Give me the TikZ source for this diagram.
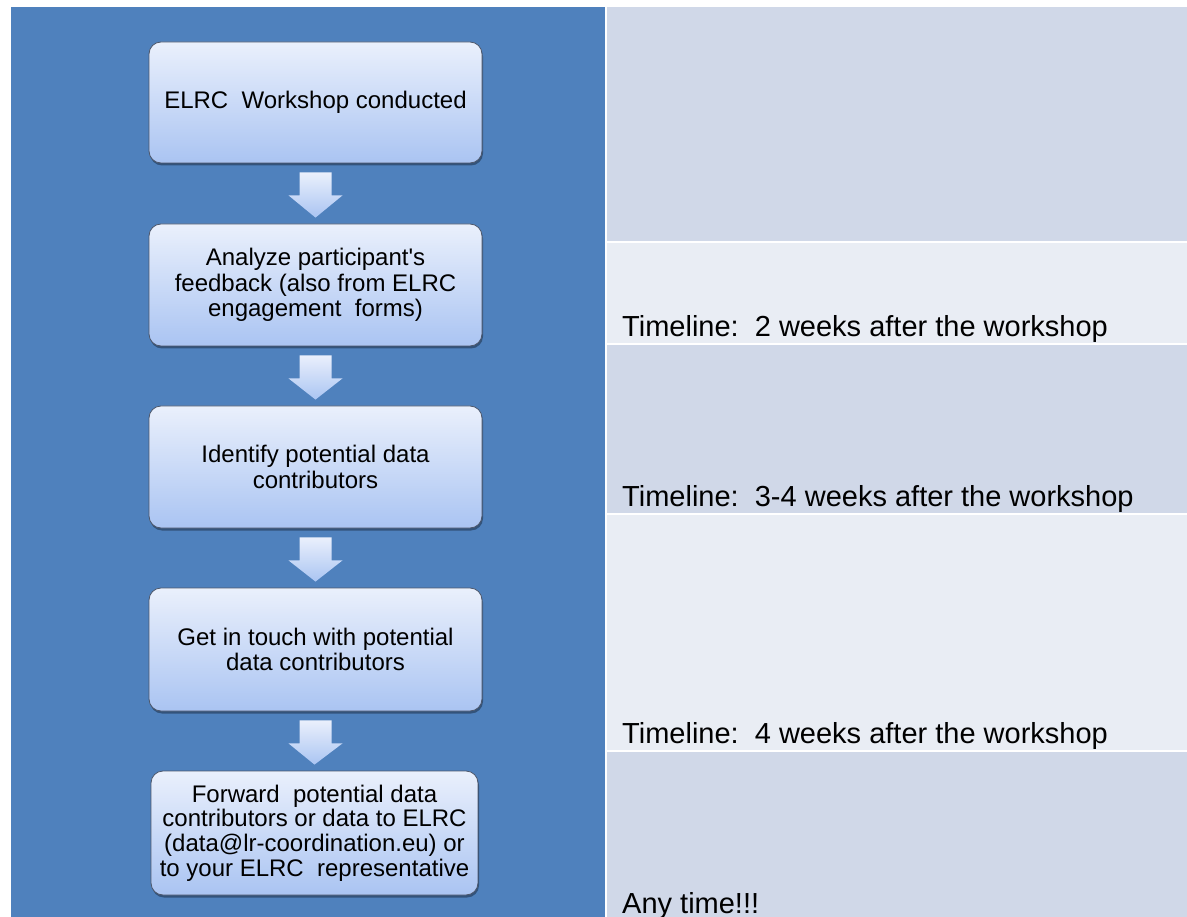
\documentclass[tikz,border=0pt]{standalone}
\usepackage{fontspec}
\setmainfont{Liberation Sans}[Ligatures=TeXOff]
\usetikzlibrary{calc,shadows}
\definecolor{bluebg}{HTML}{4F81BD}
\definecolor{rowdark}{HTML}{D0D8E8}
\definecolor{rowlight}{HTML}{E9EDF4}
\definecolor{boxtop}{RGB}{234,240,252}
\definecolor{boxbot}{RGB}{170,196,242}
\definecolor{boxedge}{RGB}{78,88,108}
\tikzset{
  stepbox/.style={draw=boxedge, line width=0.8pt, rounded corners=12pt,
    top color=boxtop, bottom color=boxbot, align=center,
    font=\fontsize{24}{25.5}\selectfont, text=black,
    minimum width=333pt, minimum height=122pt, inner sep=0pt,
    drop shadow={shadow xshift=1pt, shadow yshift=-2.5pt, opacity=0.35, fill=black}},
  flowarrow/.style={top color=boxtop, bottom color=boxbot, draw=none},
  timelabel/.style={anchor=base west, inner sep=0pt, font=\fontsize{29}{32}\selectfont, text=black}
}
\newcommand{\blockarrow}[2]{%
  \path[flowarrow]
    ($(#1.south)+(-16,9)$) -- ($(#1.south)+(16,9)$) -- ($(#1.south)+(16,32)$) --
    ($(#1.south)+(27,32)$) -- ($(#2.north)+(0,-6)$) -- ($(#1.south)+(-27,32)$) --
    ($(#1.south)+(-16,32)$) -- cycle;}
\begin{document}
\begin{tikzpicture}[x=1pt,y=-1pt]
\useasboundingbox (0,0) rectangle (1187,917);
\fill[white] (0,0) rectangle (1187,917);
% left blue panel
\fill[bluebg] (10.5,7) rectangle (604.5,917);
% right timeline rows
\fill[rowdark]  (606.5,7)   rectangle (1187,241);
\fill[rowlight] (606.5,243) rectangle (1187,343);
\fill[rowdark]  (606.5,345) rectangle (1187,513);
\fill[rowlight] (606.5,515) rectangle (1187,750);
\fill[rowdark]  (606.5,752) rectangle (1187,917);
% boxes
\node[stepbox, minimum height=121pt] (b1) at (315.5,102.5) {ELRC\ \ Workshop conducted};
\node[stepbox] (b2) at (315.5,285) {Analyze participant's\\feedback (also from ELRC\\engagement\ \ forms)};
\node[stepbox] (b3) at (315.5,467) {Identify potential data\\contributors};
\node[stepbox, minimum height=123pt] (b4) at (315.5,649.5) {Get in touch with potential\\data contributors};
\node[stepbox, minimum width=327pt, minimum height=124pt, font=\fontsize{24}{24.7}\selectfont] (b5) at (314.5,833) {Forward\ \ potential data\\contributors or data to ELRC\\(data@lr-coordination.eu) or\\to your ELRC\ \ representative};
% arrows
\blockarrow{b1}{b2}
\blockarrow{b2}{b3}
\blockarrow{b3}{b4}
\blockarrow{b4}{b5}
% timeline labels
\node[timelabel] (t2) at (622,337) {Timeline:\ \ 2 weeks after the workshop};
\node[timelabel] (t3) at (622,506) {Timeline:\ \ 3-4 weeks after the workshop};
\node[timelabel] (t4) at (622,743) {Timeline:\ \ 4 weeks after the workshop};
\node[timelabel] (t5) at (622,913) {Any time!!!};
\end{tikzpicture}
\end{document}
